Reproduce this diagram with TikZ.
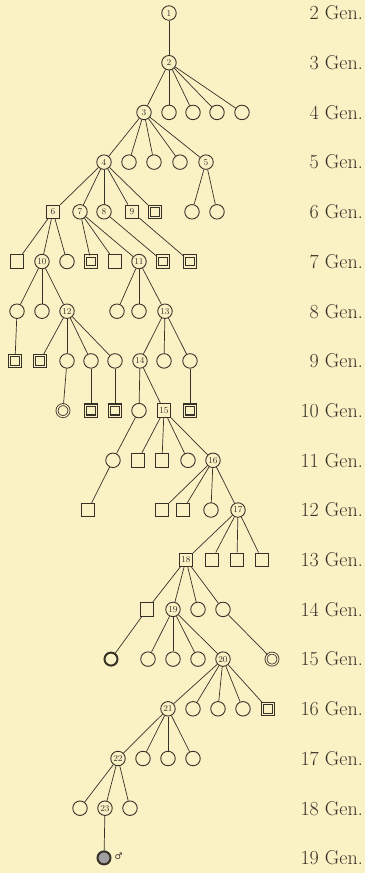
\documentclass[tikz,border=0pt]{standalone}
\usepackage{fontspec}
\usetikzlibrary{positioning}
\newfontfamily\signfont{DejaVu Sans}
\definecolor{paper}{RGB}{250,241,197}
\definecolor{ink}{RGB}{55,50,40}
\begin{document}
\begin{tikzpicture}[x=1pt,y=-49.7pt,
        ind/.style={draw=ink,line width=0.9pt,minimum size=14.5pt,inner sep=0pt,text=ink,font=\fontsize{9}{9}\selectfont},
        fem/.style={ind,circle},
        male/.style={ind,rectangle,minimum size=13.5pt},
        dmale/.style={male,double=paper,double distance=1.2pt,line width=1.1pt,minimum size=11pt},
        dfem/.style={fem,double=paper,double distance=1.2pt,line width=0.8pt,minimum size=12pt},
        bfem/.style={fem,line width=2pt,minimum size=13pt},
        gen/.style={anchor=east,text=ink,inner sep=0pt,font=\fontsize{20}{24}\selectfont}]
                \useasboundingbox (0,1.738) rectangle (365,19.304);
                \fill[paper] (0,1.738) rectangle (365,19.304);
                \node[fem] (n1) at (169,2) {1};
                \node[fem] (n2) at (169,3) {2};
                \node[fem] (n3) at (144,4) {3};
                \node[fem] (c4a) at (169,4) {}; \node[fem] (c4b) at (193,4) {};
                \node[fem] (c4c) at (217,4) {}; \node[fem] (c4d) at (242,4) {};
                \node[fem] (n4) at (104,5) {4};
                \node[fem] (c5a) at (129,5) {}; \node[fem] (c5b) at (154,5) {};
                \node[fem] (c5c) at (180,5) {}; \node[fem] (n5) at (206,5) {5};
                \node[male] (n6) at (53,6) {6}; \node[fem] (n7) at (80,6) {7};
                \node[fem] (n8) at (104,6) {8}; \node[male] (n9) at (132,6) {9};
                \node[dmale] (d6a) at (155,6) {};
                \node[fem] (c6a) at (192,6) {}; \node[fem] (c6b) at (217,6) {};
                \node[male] (s7a) at (17,7) {}; \node[fem] (n10) at (42,7) {10};
                \node[fem] (c7a) at (67,7) {}; \node[dmale] (d7a) at (91,7) {};
                \node[male] (s7b) at (115,7) {}; \node[fem] (n11) at (139,7) {11};
                \node[dmale] (d7b) at (163,7) {}; \node[dmale] (d7c) at (190,7) {};
                \node[fem] (c8a) at (17,8) {}; \node[fem] (c8b) at (42,8) {};
                \node[fem] (n12) at (67,8) {12}; \node[fem] (c8c) at (117,8) {};
                \node[fem] (c8d) at (139,8) {}; \node[fem] (n13) at (165,8) {13};
                \node[dmale] (d9a) at (15,9) {}; \node[dmale] (d9b) at (40,9) {};
                \node[fem] (c9a) at (67,9) {}; \node[fem] (c9b) at (91,9) {};
                \node[fem] (c9c) at (115,9) {}; \node[fem] (n14) at (140,9) {14};
                \node[fem] (c9d) at (164,9) {}; \node[fem] (c9e) at (190,9) {};
                \node[dfem] (e10a) at (63,10) {}; \node[dmale] (d10a) at (91,10) {};
                \node[dmale] (d10b) at (115,10) {}; \node[fem] (c10a) at (139,10) {};
                \node[male] (n15) at (164,10) {15}; \node[dmale] (d10c) at (190,10) {};
                \node[fem] (c11a) at (113,11) {}; \node[male] (s11a) at (138,11) {};
                \node[male] (s11b) at (162,11) {}; \node[fem] (c11b) at (188,11) {};
                \node[fem] (n16) at (213,11) {16};
                \node[male] (s12a) at (88,12) {}; \node[male] (s12b) at (162,12) {};
                \node[male] (s12c) at (183,12) {}; \node[fem] (c12a) at (211,12) {};
                \node[fem] (n17) at (238,12) {17};
                \node[male] (n18) at (186,13) {18}; \node[male] (s13a) at (212,13) {};
                \node[male] (s13b) at (237,13) {}; \node[male] (s13c) at (262,13) {};
                \node[male] (s14a) at (147,14) {}; \node[fem] (n19) at (173,14) {19};
                \node[fem] (c14a) at (198,14) {}; \node[fem] (c14b) at (223,14) {};
                \node[bfem] (t15a) at (111,15) {}; \node[fem] (c15a) at (148,15) {};
                \node[fem] (c15b) at (173,15) {}; \node[fem] (c15c) at (198,15) {};
                \node[fem] (n20) at (223,15) {20}; \node[dfem] (e15a) at (272,15) {};
                \node[fem] (n21) at (168,16) {21}; \node[fem] (c16a) at (193,16) {};
                \node[fem] (c16b) at (218,16) {}; \node[fem] (c16c) at (243,16) {};
                \node[dmale] (d16a) at (268,16) {};
                \node[fem] (n22) at (118,17) {22}; \node[fem] (c17a) at (143,17) {};
                \node[fem] (c17b) at (168,17) {}; \node[fem] (c17c) at (193,17) {};
                \node[fem] (c18a) at (80,18) {}; \node[fem] (n23) at (105,18) {23};
                \node[fem] (c18b) at (130,18) {};
                \node[bfem,fill=gray!75] (f19) at (104,19) {};
                \node[text=ink,inner sep=0pt,font=\signfont\fontsize{9}{9}\selectfont,right=3pt of f19,yshift=2pt] (sign) {♂};
                \foreach \a/\b in {n1/n2,n2/n3,n2/c4a,n2/c4b,n2/c4c,n2/c4d,
                        n3/n4,n3/c5a,n3/c5b,n3/c5c,n3/n5,
                        n4/n6,n4/n7,n4/n8,n4/n9,n4/d6a,n5/c6a,n5/c6b,
                        n6/s7a,n6/n10,n6/c7a,n7/d7a,n7/s7b,n7/n11,n8/d7b,n9/d7c,
                        n10/c8a,n10/c8b,n10/n12,n11/c8c,n11/c8d,n11/n13,
                        c8a/d9a,n12/d9b,n12/c9a,n12/c9b,n12/c9c,n13/n14,n13/c9d,n13/c9e,
                        c9a/e10a,c9b/d10a,c9c/d10b,n14/c10a,n14/n15,c9e/d10c,
                        c10a/c11a,n15/s11a,n15/s11b,n15/c11b,n15/n16,
                        c11a/s12a,n16/s12b,n16/s12c,n16/c12a,n16/n17,
                        n17/n18,n17/s13a,n17/s13b,n17/s13c,
                        n18/s14a,n18/n19,n18/c14a,n18/c14b,
                        s14a/t15a,n19/c15a,n19/c15b,n19/c15c,n19/n20,c14b/e15a,
                        n20/n21,n20/c16a,n20/c16b,n20/c16c,n20/d16a,
                        n21/n22,n21/c17a,n21/c17b,n21/c17c,
                        n22/c18a,n22/n23,n22/c18b,n23/f19}
                    \draw[ink,line width=0.7pt] (\a) -- (\b);
                \foreach \g in {2,...,19}
                    \node[gen] (gen\g) at (363,\g) {\g\ Gen.};
            \end{tikzpicture}
\end{document}
